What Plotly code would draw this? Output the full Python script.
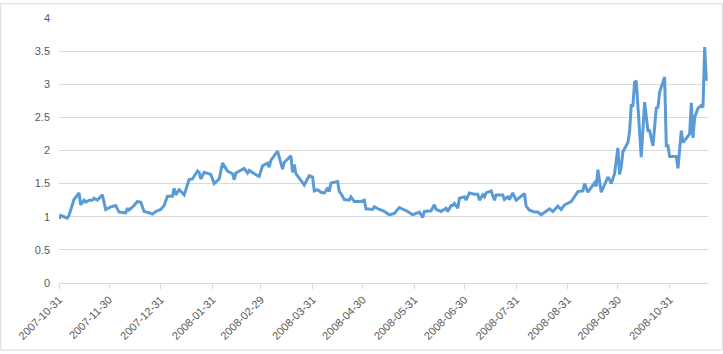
import plotly.graph_objects as go

dates = [
    "2007-10-31", "2007-11-01", "2007-11-03", "2007-11-05", "2007-11-06", "2007-11-09",
    "2007-11-12", "2007-11-13", "2007-11-15", "2007-11-16", "2007-11-18", "2007-11-20",
    "2007-11-21", "2007-11-23", "2007-11-26", "2007-11-28", "2007-12-01", "2007-12-04",
    "2007-12-06", "2007-12-10", "2007-12-11", "2007-12-12", "2007-12-15", "2007-12-17",
    "2007-12-19", "2007-12-21", "2007-12-24", "2007-12-26", "2007-12-28", "2007-12-31",
    "2008-01-02", "2008-01-04", "2008-01-07", "2008-01-08", "2008-01-09", "2008-01-11",
    "2008-01-14", "2008-01-17", "2008-01-19", "2008-01-22", "2008-01-23", "2008-01-24",
    "2008-01-26", "2008-01-30", "2008-02-01", "2008-02-04", "2008-02-06", "2008-02-09",
    "2008-02-12", "2008-02-13", "2008-02-14", "2008-02-17", "2008-02-19", "2008-02-21",
    "2008-02-22", "2008-02-27", "2008-02-28", "2008-03-01", "2008-03-04", "2008-03-05",
    "2008-03-06", "2008-03-10", "2008-03-13", "2008-03-14", "2008-03-18", "2008-03-19",
    "2008-03-20", "2008-03-21", "2008-03-26", "2008-03-29", "2008-03-31", "2008-04-01",
    "2008-04-03", "2008-04-05", "2008-04-07", "2008-04-08", "2008-04-09", "2008-04-10",
    "2008-04-11", "2008-04-15", "2008-04-16", "2008-04-17", "2008-04-19", "2008-04-22",
    "2008-04-23", "2008-04-25", "2008-04-29", "2008-05-01", "2008-05-02", "2008-05-06",
    "2008-05-07", "2008-05-10", "2008-05-12", "2008-05-13", "2008-05-16", "2008-05-19",
    "2008-05-22", "2008-05-24", "2008-05-27", "2008-05-30", "2008-06-01", "2008-06-03",
    "2008-06-05", "2008-06-06", "2008-06-10", "2008-06-12", "2008-06-13", "2008-06-16",
    "2008-06-19", "2008-06-20", "2008-06-22", "2008-06-23", "2008-06-24", "2008-06-26",
    "2008-06-27", "2008-06-30", "2008-07-01", "2008-07-03", "2008-07-06", "2008-07-08",
    "2008-07-09", "2008-07-11", "2008-07-12", "2008-07-13", "2008-07-16", "2008-07-18",
    "2008-07-19", "2008-07-23", "2008-07-24", "2008-07-26", "2008-07-27", "2008-07-29",
    "2008-07-31", "2008-08-03", "2008-08-05", "2008-08-06", "2008-08-08", "2008-08-11",
    "2008-08-13", "2008-08-15", "2008-08-18", "2008-08-20", "2008-08-22", "2008-08-25",
    "2008-08-27", "2008-08-29", "2008-09-02", "2008-09-04", "2008-09-06", "2008-09-09",
    "2008-09-10", "2008-09-12", "2008-09-14", "2008-09-16", "2008-09-17", "2008-09-18",
    "2008-09-20", "2008-09-24", "2008-09-25", "2008-09-26", "2008-09-28", "2008-09-30",
    "2008-10-01", "2008-10-02", "2008-10-03", "2008-10-06", "2008-10-07", "2008-10-08",
    "2008-10-09", "2008-10-10", "2008-10-11", "2008-10-14", "2008-10-16", "2008-10-18",
    "2008-10-19", "2008-10-21", "2008-10-23", "2008-10-24", "2008-10-25", "2008-10-28",
    "2008-10-29", "2008-10-30", "2008-10-31", "2008-11-03", "2008-11-04", "2008-11-05",
    "2008-11-07", "2008-11-08", "2008-11-11", "2008-11-12", "2008-11-13", "2008-11-14",
    "2008-11-15", "2008-11-17", "2008-11-19", "2008-11-20", "2008-11-21", "2008-11-22",
]

values = [
    0.97, 1.02, 1.00, 0.98, 1.02, 1.26,
    1.36, 1.18, 1.25, 1.22, 1.25, 1.25,
    1.28, 1.25, 1.33, 1.11, 1.15, 1.17,
    1.07, 1.06, 1.13, 1.10, 1.17, 1.23,
    1.22, 1.08, 1.06, 1.04, 1.08, 1.11,
    1.17, 1.31, 1.31, 1.43, 1.33, 1.41,
    1.33, 1.56, 1.57, 1.69, 1.67, 1.57,
    1.67, 1.64, 1.50, 1.57, 1.81, 1.69,
    1.65, 1.56, 1.66, 1.70, 1.73, 1.66,
    1.70, 1.62, 1.61, 1.77, 1.81, 1.75,
    1.85, 1.99, 1.72, 1.82, 1.92, 1.67,
    1.79, 1.65, 1.48, 1.62, 1.60, 1.39,
    1.41, 1.37, 1.36, 1.39, 1.44, 1.38,
    1.51, 1.53, 1.38, 1.35, 1.26, 1.25,
    1.30, 1.23, 1.23, 1.25, 1.12, 1.11,
    1.15, 1.11, 1.09, 1.08, 1.03, 1.05,
    1.14, 1.12, 1.08, 1.03, 1.05, 1.07,
    0.99, 1.08, 1.09, 1.18, 1.11, 1.08,
    1.13, 1.08, 1.17, 1.17, 1.20, 1.13,
    1.28, 1.30, 1.25, 1.36, 1.34, 1.34,
    1.25, 1.33, 1.30, 1.36, 1.39, 1.25,
    1.33, 1.33, 1.26, 1.30, 1.26, 1.36,
    1.25, 1.31, 1.35, 1.16, 1.10, 1.07,
    1.07, 1.03, 1.08, 1.12, 1.08, 1.16,
    1.11, 1.18, 1.23, 1.30, 1.38, 1.39,
    1.50, 1.37, 1.44, 1.51, 1.46, 1.71,
    1.37, 1.60, 1.56, 1.50, 1.65, 2.04,
    1.64, 1.75, 1.98, 2.12, 2.29, 2.68,
    2.68, 3.03, 3.05, 1.90, 2.73, 2.30,
    2.30, 2.07, 2.64, 2.65, 2.88, 3.11,
    2.07, 2.07, 1.91, 1.91, 1.91, 1.73,
    2.30, 2.12, 2.21, 2.25, 2.72, 2.19,
    2.50, 2.64, 2.68, 2.65, 3.56, 3.05,
]

tick_dates = [
    "2007-10-31", "2007-11-30", "2007-12-31", "2008-01-31", "2008-02-29",
    "2008-03-31", "2008-04-30", "2008-05-31", "2008-06-30", "2008-07-31",
    "2008-08-31", "2008-09-30", "2008-10-31",
]
y_ticks = [0, 0.5, 1, 1.5, 2, 2.5, 3, 3.5, 4]
y_tick_text = ["0", "0.5", "1", "1.5", "2", "2.5", "3", "3.5", "4"]

W, H = 723, 354
L, R, T, B = 58.7, 15.3, 15, 69.7
pw, ph = W - L - R, H - T - B

fig = go.Figure()
fig.add_trace(go.Scatter(
    x=dates, y=values, mode="lines",
    line=dict(color="#5b9bd5", width=3, shape="linear"),
    hoverinfo="x+y", showlegend=False,
))

font = dict(family="Liberation Sans, Arial, sans-serif", size=11, color="#595959")

fig.update_layout(
    width=W, height=H,
    margin=dict(l=L, r=R, t=T, b=B, pad=0),
    paper_bgcolor="white", plot_bgcolor="white",
    font=font,
    xaxis=dict(
        type="date", range=["2007-10-31", "2008-11-23"],
        tickmode="array", tickvals=tick_dates, ticktext=tick_dates,
        tickangle=-45, showgrid=False, zeroline=False,
        showline=True, linecolor="#d9d9d9", linewidth=1,
        ticks="outside", ticklen=5, tickcolor="#d9d9d9", tickwidth=1,
        tickfont=font,
    ),
    yaxis=dict(
        range=[0, 4], tickmode="array", tickvals=y_ticks, ticktext=y_tick_text,
        showgrid=True, gridcolor="#d9d9d9", gridwidth=1,
        zeroline=False, showline=False, ticks="",
        ticklabelstandoff=8, tickfont=font,
    ),
    shapes=[dict(
        type="rect", xref="paper", yref="paper",
        x0=(0.5 - L) / pw, x1=(W - 1 - L) / pw,
        y0=((T + ph) - (H - 1.5)) / ph,
        y1=((T + ph) - 0.5) / ph,
        line=dict(color="#d9d9d9", width=1), fillcolor="rgba(0,0,0,0)", layer="below",
    )],
)

fig.write_html("out.html")
